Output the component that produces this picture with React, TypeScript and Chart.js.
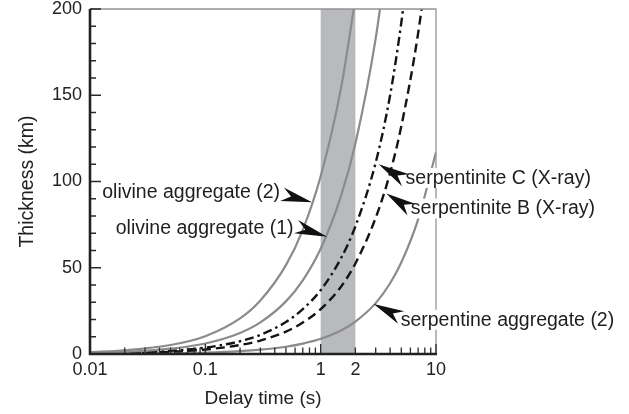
import React, { useEffect, useRef } from "react";
import { Chart, registerables } from "chart.js";

Chart.register(...registerables);

// ---- data ----
const times = [0.01, 0.02, 0.05, 0.1, 0.2, 0.3, 0.5, 0.7, 1, 1.5, 2, 3, 4, 5, 7, 10];
const olivine2 = [1.0, 2.1, 5.2, 10.3, 20.6, 31, 51.5, 72, 103, 154, 206, null, null, null, null, null];
const olivine1 = [0.6, 1.2, 3.1, 6.1, 12.2, 18.3, 30.5, 42.7, 61, 91.5, 122, 183, 244, null, null, null];
const serpC = [0.37, 0.74, 1.85, 3.7, 7.4, 11.1, 18.5, 26, 37, 55.5, 74, 111, 150, 192, 272, null];
const serpB = [0.26, 0.52, 1.3, 2.6, 5.2, 7.8, 13, 18.2, 26, 39, 52.5, 79, 105, 132, 186, 265];
const serpAgg2 = [0.08, 0.16, 0.4, 0.8, 1.65, 2.5, 4.2, 6, 8.8, 13.6, 18.8, 29.5, 41, 53, 78, 117];

const bandRange = [1, 2];
const xTickValues = [0.01, 0.1, 1, 2, 10];
const xTickLabels = ["0.01", "0.1", "1", "2", "10"];
const xMajorMarks = [0.1, 1, 10];
const xMinorMarks = [
  0.02, 0.03, 0.04, 0.05, 0.06, 0.07, 0.08, 0.09,
  0.2, 0.3, 0.4, 0.5, 0.6, 0.7, 0.8, 0.9,
  2, 3, 4, 5, 6, 7, 8, 9,
];
const yTickValues = [0, 50, 100, 150, 200];
const yMinorMarks = [10, 20, 30, 40, 60, 70, 80, 90, 110, 120, 130, 140, 160, 170, 180, 190];

const annotationTexts = [
  "olivine aggregate (2)",
  "olivine aggregate (1)",
  "serpentinite C (X-ray)",
  "serpentinite B (X-ray)",
  "serpentine aggregate (2)",
];
// arrow tips in data units (delay time, thickness)
const annotationTipT = [0.842, 1.136, 3.18, 3.71, 2.88];
const annotationTipKm = [88, 68, 110, 93, 29];

// ---- layout (pixels, relative to arrow tip) ----
const annotationLayout = [
  { tailDx: -30, tailDy: -8, textDx: -32, textDy: -10, align: "right" },
  { tailDx: -31, tailDy: -10, textDx: -33.5, textDy: -8.5, align: "right" },
  { tailDx: 27, tailDy: 16, textDx: 27, textDy: 13.7, align: "left" },
  { tailDx: 25, tailDy: 16, textDx: 24.5, textDy: 15, align: "left" },
  { tailDx: 27.5, tailDy: 13.5, textDx: 27, textDy: 15.7, align: "left" },
];

const FONT = "'Liberation Sans', Arial, Helvetica, sans-serif";
const GRAY_LINE = "#8b8b8d";
const BLACK_LINE = "#141414";

function toPoints(vals: (number | null)[]) {
  return times.map((t, i) => ({ x: t, y: vals[i] }));
}

const decorPlugin = {
  id: "decor",
  beforeDatasetsDraw(chart: any) {
    const { ctx, chartArea, scales } = chart;
    const x1 = scales.x.getPixelForValue(bandRange[0]);
    const x2 = scales.x.getPixelForValue(bandRange[1]);
    ctx.save();
    ctx.fillStyle = "#b9babe";
    ctx.fillRect(x1, chartArea.top, x2 - x1, chartArea.bottom - chartArea.top);
    ctx.restore();
  },
  afterDatasetsDraw(chart: any) {
    const { ctx, chartArea, scales } = chart;
    const { left, right, top, bottom } = chartArea;
    ctx.save();
    ctx.strokeStyle = "#949494";
    ctx.lineWidth = 1.3;
    ctx.beginPath();
    ctx.moveTo(left, top);
    ctx.lineTo(right, top);
    ctx.lineTo(right, bottom);
    ctx.stroke();
    ctx.strokeStyle = "#2a2a2a";
    ctx.lineWidth = 1.3;
    ctx.beginPath();
    for (const v of yTickValues) {
      const y = scales.y.getPixelForValue(v);
      ctx.moveTo(left, y);
      ctx.lineTo(left + 11, y);
    }
    for (const v of yMinorMarks) {
      const y = scales.y.getPixelForValue(v);
      ctx.moveTo(left, y);
      ctx.lineTo(left + 6, y);
    }
    for (const v of xMajorMarks) {
      const x = scales.x.getPixelForValue(v);
      ctx.moveTo(x, bottom);
      ctx.lineTo(x, bottom - 10);
    }
    for (const v of xMinorMarks) {
      const x = scales.x.getPixelForValue(v);
      ctx.moveTo(x, bottom);
      ctx.lineTo(x, bottom - 6.5);
    }
    ctx.stroke();
    ctx.strokeStyle = "#222";
    ctx.lineWidth = 2.6;
    ctx.beginPath();
    ctx.moveTo(left, top);
    ctx.lineTo(left, bottom);
    ctx.lineTo(right + 1, bottom);
    ctx.stroke();
    ctx.restore();
  },
  afterDraw(chart: any) {
    const { ctx, scales } = chart;
    ctx.save();
    ctx.font = `19.5px ${FONT}`;
    ctx.textBaseline = "middle";
    annotationTexts.forEach((text, i) => {
      const lay = annotationLayout[i];
      const tx = scales.x.getPixelForValue(annotationTipT[i]);
      const ty = scales.y.getPixelForValue(annotationTipKm[i]);
      const w = ctx.measureText(text).width;
      const textX = tx + lay.textDx;
      const textY = ty + lay.textDy;
      const boxX = lay.align === "right" ? textX - w - 1 : textX - 1;
      ctx.fillStyle = "#ffffff";
      ctx.fillRect(boxX, textY - 10, w + 2, 20);
      ctx.fillStyle = "#1e1e1e";
      ctx.textAlign = lay.align as CanvasTextAlign;
      ctx.fillText(text, textX, textY + 0.5);
      const bx = tx + lay.tailDx;
      const by = ty + lay.tailDy;
      const dx = tx - bx;
      const dy = ty - by;
      const len = Math.hypot(dx, dy);
      const ux = dx / len;
      const uy = dy / len;
      const px = -uy;
      const py = ux;
      const hw = 7;
      ctx.fillStyle = "#111";
      ctx.beginPath();
      ctx.moveTo(tx, ty);
      ctx.lineTo(bx + px * hw, by + py * hw);
      ctx.lineTo(bx + ux * len * 0.3, by + uy * len * 0.3);
      ctx.lineTo(bx - px * hw, by - py * hw);
      ctx.closePath();
      ctx.fill();
    });
    ctx.restore();
  },
};

export default function App() {
  const canvasRef = useRef<HTMLCanvasElement | null>(null);

  useEffect(() => {
    if (!canvasRef.current) return;
    const chart = new Chart(canvasRef.current, {
      type: "line",
      data: {
        datasets: [
          {
            label: "olivine aggregate (2)",
            data: toPoints(olivine2),
            borderColor: GRAY_LINE,
            borderWidth: 2.2,
            pointRadius: 0,
            cubicInterpolationMode: "monotone",
          },
          {
            label: "olivine aggregate (1)",
            data: toPoints(olivine1),
            borderColor: GRAY_LINE,
            borderWidth: 2.2,
            pointRadius: 0,
            cubicInterpolationMode: "monotone",
          },
          {
            label: "serpentinite C (X-ray)",
            data: toPoints(serpC),
            borderColor: BLACK_LINE,
            borderWidth: 2.4,
            borderDash: [9, 4, 2.5, 4],
            pointRadius: 0,
            cubicInterpolationMode: "monotone",
          },
          {
            label: "serpentinite B (X-ray)",
            data: toPoints(serpB),
            borderColor: BLACK_LINE,
            borderWidth: 2.4,
            borderDash: [9, 5],
            pointRadius: 0,
            cubicInterpolationMode: "monotone",
          },
          {
            label: "serpentine aggregate (2)",
            data: toPoints(serpAgg2),
            borderColor: GRAY_LINE,
            borderWidth: 2.2,
            pointRadius: 0,
            cubicInterpolationMode: "monotone",
          },
        ],
      },
      options: {
        animation: false,
        responsive: false,
        devicePixelRatio: 1,
        layout: { padding: { top: 9, right: 193, left: 0, bottom: 0 } },
        plugins: {
          legend: { display: false },
          tooltip: { enabled: false },
        },
        scales: {
          x: {
            type: "logarithmic",
            min: 0.01,
            max: 10,
            grid: { display: false, drawTicks: false },
            border: { display: false },
            afterBuildTicks: (scale: any) => {
              scale.ticks = xTickValues.map((v) => ({ value: v }));
            },
            afterFit: (scale: any) => {
              scale.height = 60;
              scale.paddingLeft = 0;
              scale.paddingRight = 0;
            },
            ticks: {
              padding: 5,
              autoSkip: false,
              maxRotation: 0,
              color: "#222",
              font: { family: FONT, size: 18 },
              callback: (value: any) => {
                const idx = xTickValues.indexOf(Number(value));
                return idx >= 0 ? xTickLabels[idx] : "";
              },
            },
            title: {
              display: true,
              text: "Delay time (s)",
              color: "#222",
              font: { family: FONT, size: 19 },
              padding: { top: 0, bottom: 4 },
            },
          },
          y: {
            min: 0,
            max: 200,
            grid: { display: false, drawTicks: false },
            border: { display: false },
            afterBuildTicks: (scale: any) => {
              scale.ticks = yTickValues.map((v) => ({ value: v }));
            },
            afterFit: (scale: any) => {
              scale.width = 90;
              scale.paddingTop = 0;
              scale.paddingBottom = 0;
            },
            ticks: {
              padding: 8,
              color: "#222",
              font: { family: FONT, size: 18 },
            },
            title: {
              display: true,
              text: "Thickness (km)",
              color: "#222",
              font: { family: FONT, size: 19.5 },
              padding: { top: 15.5, bottom: 0 },
            },
          },
        },
      },
      plugins: [decorPlugin],
    } as any);
    return () => chart.destroy();
  }, []);

  return (
    <div style={{ position: "absolute", left: 0, top: 0, width: 629, height: 414, background: "#fff" }}>
      <canvas ref={canvasRef} width={629} height={414} style={{ width: 629, height: 414, display: "block" }} />
    </div>
  );
}
